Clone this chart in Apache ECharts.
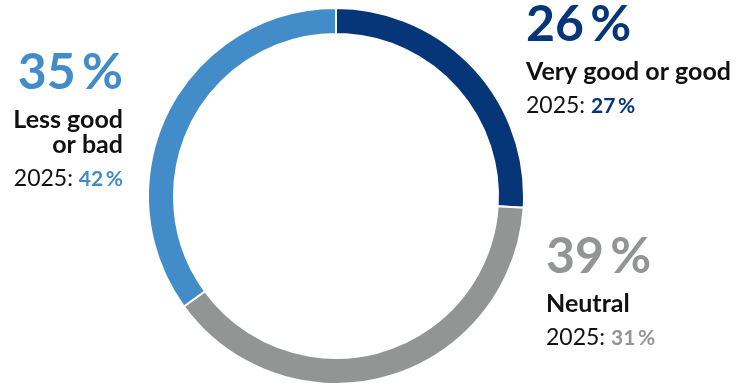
<!DOCTYPE html>
<html>
<head>
<meta charset="utf-8">
<script src="https://cdn.jsdelivr.net/npm/echarts@6/dist/echarts.min.js"></script>
<style>
  html, body { margin: 0; padding: 0; background: #ffffff; }
  #chart { width: 746px; height: 386px; }
</style>
</head>
<body>
<div id="chart"></div>
<script>
// Survey answers, current wave and 2025 comparison
const categories = ['Very good or good', 'Neutral', 'Less good\nor bad'];
const shares = [26, 39, 35];
const shares2025 = [27, 31, 42];
const colors = ['#063578', '#939594', '#428cc9'];

const FONT = 'Lato, "Open Sans", sans-serif';
const chart = echarts.init(document.getElementById('chart'), null, { renderer: 'canvas' });

// Label block for one slice: big share, bold category name, 2025 line
function labelBlock(i, x, y, align, nameLines) {
  const nameY = y + 59.5;
  const yearY = nameY + 25 * nameLines + 10;
  return [
    {
      type: 'text', x: x, y: y,
      style: {
        text: shares[i] + '\u2009%', fill: colors[i],
        font: 'bold 50px ' + FONT, align: align, verticalAlign: 'top'
      }
    },
    {
      type: 'text', x: x, y: nameY,
      style: {
        text: categories[i], fill: '#111111',
        font: 'bold 25px ' + FONT, align: align, verticalAlign: 'top',
        lineHeight: 25
      }
    },
    {
      type: 'text', x: x, y: yearY,
      style: {
        text: '{a|2025: }{b|' + shares2025[i] + '\u2009%}',
        align: align, verticalAlign: 'top',
        rich: {
          a: { font: '23px ' + FONT, fill: '#111111' },
          b: { font: 'bold 21px ' + FONT, fill: colors[i] }
        }
      }
    }
  ];
}

const option = {
  animation: false,
  series: [{
    type: 'pie',
    center: [336, 196],
    radius: [162, 188],
    startAngle: 90,
    clockwise: true,
    silent: true,
    label: { show: false },
    labelLine: { show: false },
    itemStyle: { borderColor: '#ffffff', borderWidth: 2 },
    data: categories.map((name, i) => ({
      name: name, value: shares[i], itemStyle: { color: colors[i] }
    }))
  }],
  graphic: [].concat(
    labelBlock(0, 526, 0, 'left', 1),
    labelBlock(1, 546, 232, 'left', 1),
    labelBlock(2, 123, 48, 'right', 2)
  )
};
chart.setOption(option);
</script>
</body>
</html>
